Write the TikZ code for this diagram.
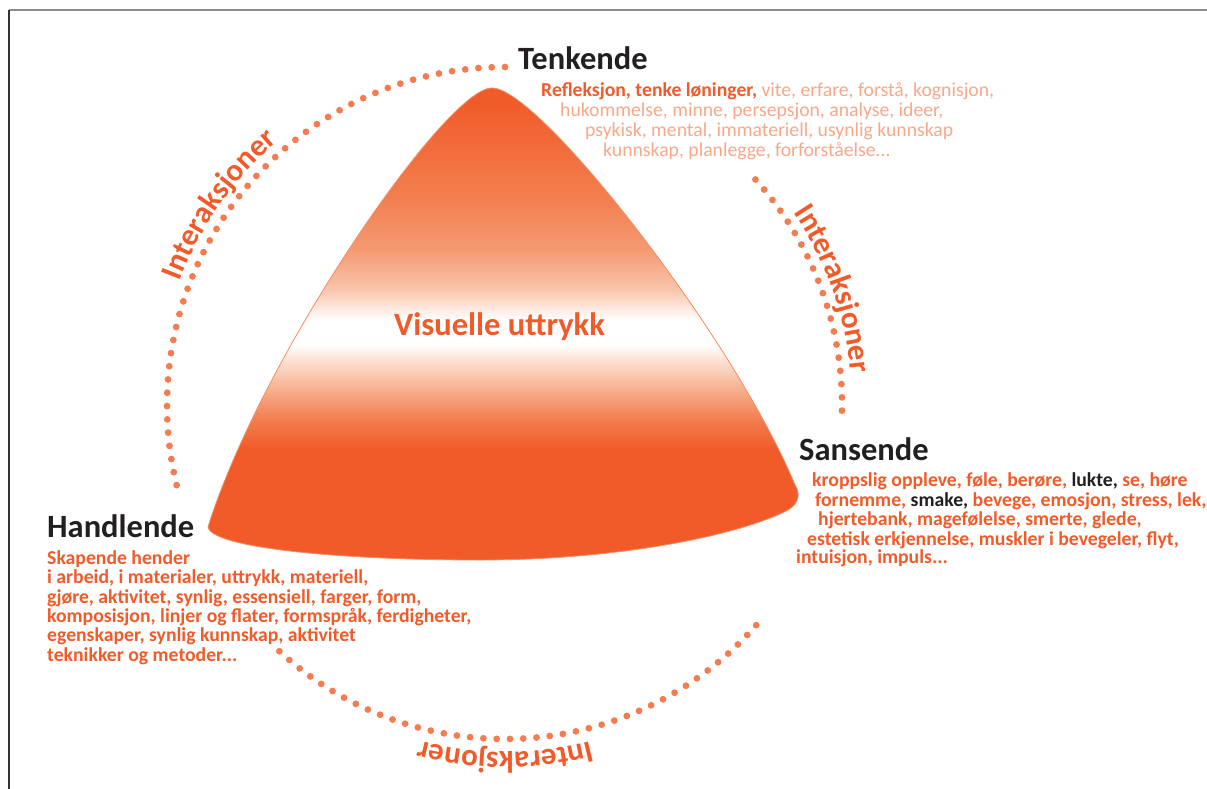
\documentclass[tikz,border=0pt]{standalone}
\usepackage{fontspec}
\setmainfont{Carlito}
\usetikzlibrary{decorations.text}

% palette
\definecolor{tor}{RGB}{241,90,41}
\definecolor{dotc}{RGB}{244,124,80}
\definecolor{softtxt}{RGB}{248,168,136}
\definecolor{ink}{RGB}{35,31,32}
\definecolor{edgec}{RGB}{245,140,100}
\definecolor{sa}{RGB}{243,124,78}
\definecolor{sb}{RGB}{247,174,140}
\definecolor{sc}{RGB}{252,226,212}
\definecolor{sd}{RGB}{253,236,227}
\definecolor{se}{RGB}{249,198,173}
\definecolor{sf}{RGB}{245,154,115}
\definecolor{sg}{RGB}{243,128,80}

% orange -> white band -> orange, bottom to top
\pgfdeclareverticalshading{pyramid}{100bp}{%
  color(0bp)=(tor); color(36.7bp)=(tor); color(39.8bp)=(sa);
  color(43bp)=(sb); color(46.2bp)=(sc); color(47.8bp)=(white);
  color(50.4bp)=(white); color(51.5bp)=(sd); color(53.6bp)=(se);
  color(57.8bp)=(sf); color(63.1bp)=(sg); color(73.7bp)=(tor);
  color(100bp)=(tor)}

\tikzset{
  head/.style={inner sep=0pt, anchor=base west, text=ink,
    font=\fontsize{32.5}{32.5}\selectfont\bfseries},
  bodytxt/.style={inner sep=0pt, anchor=base west,
    font=\fontsize{19.7}{20}\selectfont},
  boldtxt/.style={bodytxt, font=\fontsize{19.7}{20}\selectfont\bfseries},
  dotline/.style={draw=dotc, line width=6.8pt, line cap=round,
    dash pattern=on 0pt off 13.3pt},
  arclabel/.style={decorate, decoration={text along path,
    text={|\fontsize{31}{31}\selectfont\bfseries|Interaksjoner},
    text align=center, text color=tor}},
}

\begin{document}
\begin{tikzpicture}[x=1pt,y=1pt]
\useasboundingbox (0,0) rectangle (1207,-789);

% frame
\draw[line width=1.5pt, black!45] (9,-10) -- (1207,-10);
\draw[line width=1.5pt, black!80] (9,-10) -- (9,-789);

% central rounded pyramid
\shadedraw[shading=pyramid, draw=edgec, line width=0.8pt]
  (492,-88) .. controls (445,-88) and (260,-360) .. (208,-527)
  .. controls (212,-548) and (340,-560) .. (480,-560)
  .. controls (620,-560) and (740,-535) .. (788,-510)
  .. controls (800,-503) and (800,-492) .. (795,-485)
  .. controls (735,-340) and (540,-88) .. (492,-88) -- cycle;

\node[inner sep=0pt, anchor=base west, text=tor,
      font=\fontsize{32.5}{32.5}\selectfont\bfseries] (vis) at (394,-335) {Visuelle uttrykk};

% dotted interaction arcs and their labels
\begin{scope}[shift={(505,-405)}]
  \draw[dotline] (90:338) arc[start angle=90, end angle=195, radius=338];
  \draw[dotline] (42:337) arc[start angle=42, end angle=-2, radius=337];
  \draw[dotline] (227.5:334) arc[start angle=227.5, end angle=321, radius=334];

  \path[arclabel] (175:348) arc[start angle=175, end angle=115, radius=348];
  \path[arclabel] (50:347) arc[start angle=50, end angle=-11, radius=347];
  \path[arclabel] (300:347) arc[start angle=300, end angle=240, radius=347];
\end{scope}

% Tenkende
\node[head] (tk) at (518,-69.5) {Tenkende};
\begin{scope}[text=softtxt]
\node[bodytxt] (tk1) at (541,-96.7) {\textcolor{tor}{\bfseries Refleksjon, tenke løninger,} vite, erfare, forstå, kognisjon,};
\node[bodytxt] (tk2) at (560,-116.7) {hukommelse, minne, persepsjon, analyse, ideer,};
\node[bodytxt] (tk3) at (585,-136.7) {psykisk, mental, immateriell, usynlig kunnskap};
\node[bodytxt] (tk4) at (603,-156.7) {kunnskap, planlegge, forforståelse...};
\end{scope}

% Sansende
\node[head] (sn) at (799,-460) {Sansende};
\begin{scope}[text=tor]
\node[boldtxt] (sn1) at (812,-486.7) {kroppslig oppleve, føle, berøre, \textcolor{ink}{lukte,} se, høre};
\node[boldtxt] (sn2) at (815,-506) {fornemme, \textcolor{ink}{smake,} bevege, emosjon, stress, lek,};
\node[boldtxt] (sn3) at (818,-525.7) {hjertebank, magefølelse, smerte, glede,};
\node[boldtxt] (sn4) at (807,-545) {estetisk erkjennelse, muskler i bevegeler, flyt,};
\node[boldtxt] (sn5) at (796,-563.3) {intuisjon, impuls...};
\end{scope}

% Handlende
\node[head] (hd) at (47,-537.3) {Handlende};
\begin{scope}[text=tor]
\node[boldtxt] (hd1) at (47,-564) {Skapende hender};
\node[boldtxt] (hd2) at (47,-583.3) {i arbeid, i materialer, uttrykk, materiell,};
\node[boldtxt] (hd3) at (47,-603.3) {gjøre, aktivitet, synlig, essensiell, farger, form,};
\node[boldtxt] (hd4) at (47,-622.7) {komposisjon, linjer og flater, formspråk, ferdigheter,};
\node[boldtxt] (hd5) at (47,-641.7) {egenskaper, synlig kunnskap, aktivitet};
\node[boldtxt] (hd6) at (47,-661.7) {teknikker og metoder...};
\end{scope}
\end{tikzpicture}
\end{document}
